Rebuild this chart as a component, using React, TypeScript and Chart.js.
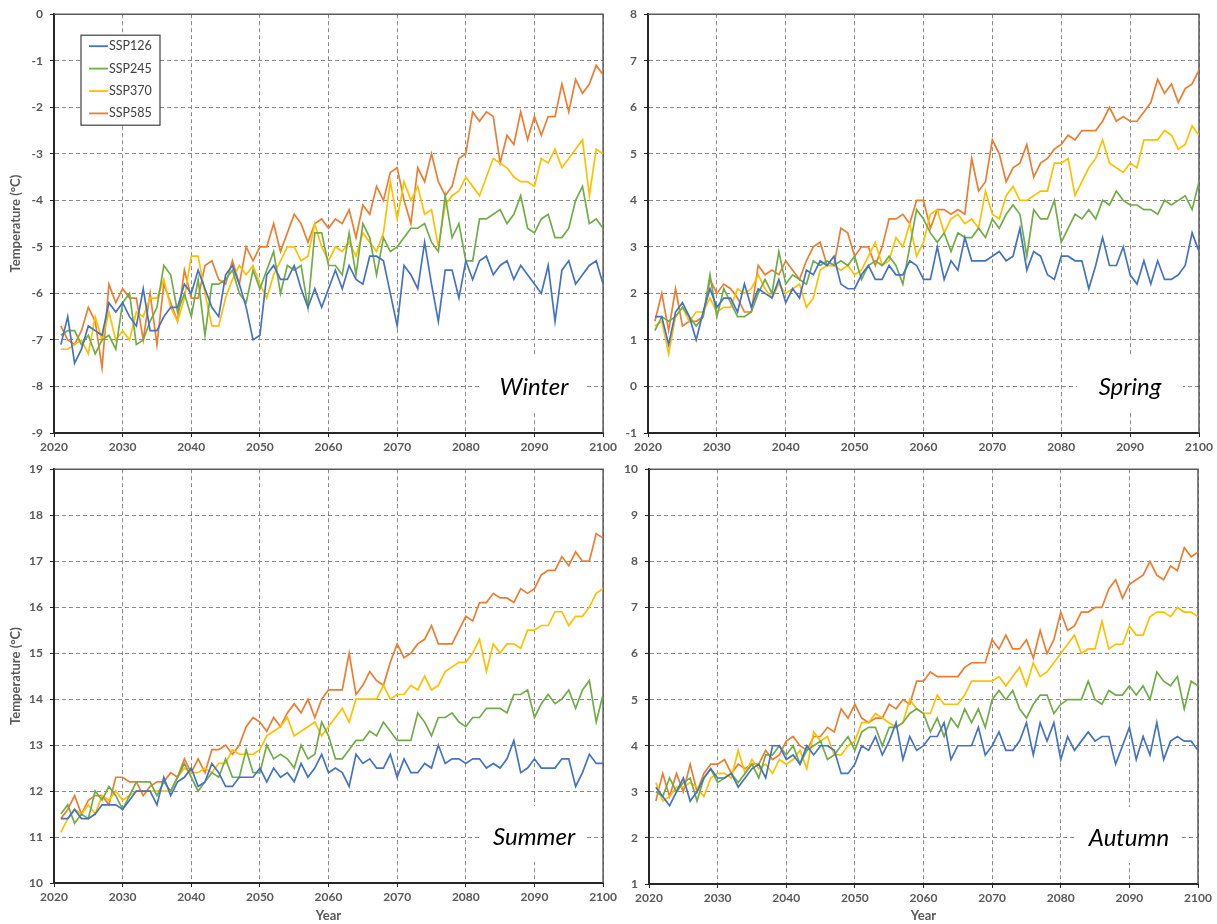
import React, { useEffect, useRef } from "react";
import { Chart, registerables } from "chart.js";

Chart.register(...registerables);

// ---------- categories ----------
const YEARS: number[] = Array.from({ length: 80 }, (_, i) => 2021 + i);
const SCENARIOS = ["SSP126", "SSP245", "SSP370", "SSP585"];
const COLORS = ["#4472C4", "#70AD47", "#FFC000", "#ED7D31"];
const X_TICK_STEP = 10;

// ---------- Winter ----------
const WINTER_SSP126 = [
  -7.1, -6.5, -7.5, -7.2, -6.7, -6.8, -6.9, -6.2, -6.4, -6.2,
  -6.5, -6.7, -5.9, -6.8, -6.8, -6.5, -6.3, -6.3, -5.8, -6.0,
  -5.5, -5.9, -6.3, -6.5, -5.6, -5.4, -5.8, -6.3, -7.0, -6.9,
  -5.6, -5.4, -5.7, -5.7, -5.4, -5.9, -6.3, -5.9, -6.3, -5.9,
  -5.5, -5.9, -5.4, -5.7, -5.8, -5.2, -5.2, -5.3, -6.0, -6.7,
  -5.4, -5.6, -5.9, -4.9, -5.8, -6.6, -5.5, -5.5, -6.1, -5.3,
  -5.7, -5.3, -5.2, -5.6, -5.4, -5.3, -5.7, -5.4, -5.6, -5.8,
  -6.0, -5.4, -6.6, -5.5, -5.3, -5.8, -5.6, -5.4, -5.3, -5.8,
];
const WINTER_SSP245 = [
  -6.9, -6.8, -6.8, -7.1, -6.9, -7.3, -7.0, -6.9, -7.2, -6.2,
  -6.0, -7.1, -7.0, -6.6, -6.3, -5.4, -5.6, -6.4, -6.0, -6.5,
  -5.7, -6.9, -5.8, -5.8, -5.7, -5.5, -6.0, -6.2, -5.5, -5.9,
  -5.5, -5.1, -6.0, -5.4, -5.5, -5.4, -6.3, -4.7, -4.7, -5.4,
  -5.4, -5.6, -4.7, -5.6, -4.5, -4.8, -5.6, -4.8, -5.1, -5.0,
  -4.8, -4.6, -4.6, -4.5, -4.9, -5.1, -3.9, -4.8, -4.5, -5.3,
  -5.3, -4.4, -4.4, -4.3, -4.2, -4.5, -4.3, -3.9, -4.6, -4.7,
  -4.4, -4.3, -4.8, -4.8, -4.6, -4.0, -3.7, -4.5, -4.4, -4.6,
];
const WINTER_SSP370 = [
  -7.2, -7.2, -7.1, -7.0, -7.3, -6.5, -7.0, -6.4, -7.0, -6.8,
  -7.0, -6.4, -6.5, -6.1, -6.1, -5.7, -6.3, -6.6, -6.1, -5.2,
  -5.2, -6.0, -6.7, -6.7, -6.1, -5.7, -5.4, -5.6, -5.4, -5.8,
  -6.1, -5.6, -5.3, -5.0, -5.0, -5.3, -5.2, -4.5, -5.0, -5.3,
  -5.0, -5.1, -4.9, -5.2, -4.7, -4.9, -5.1, -4.7, -3.6, -4.4,
  -3.6, -4.0, -3.7, -4.3, -4.2, -5.0, -4.1, -3.9, -3.8, -3.5,
  -3.7, -3.9, -3.5, -3.1, -3.2, -3.3, -3.5, -3.6, -3.6, -3.7,
  -3.1, -3.2, -2.9, -3.3, -3.1, -2.9, -2.7, -3.9, -2.9, -3.0,
];
const WINTER_SSP585 = [
  -6.7, -7.0, -7.1, -6.8, -6.3, -6.6, -7.6, -5.8, -6.2, -5.9,
  -6.1, -6.1, -7.0, -6.0, -7.1, -5.8, -6.2, -6.6, -5.5, -6.1,
  -6.1, -5.4, -5.3, -5.7, -5.8, -5.3, -5.8, -5.0, -5.3, -5.0,
  -5.0, -4.5, -5.1, -4.7, -4.3, -4.5, -4.9, -4.5, -4.4, -4.6,
  -4.4, -4.5, -4.2, -4.8, -4.1, -4.3, -3.7, -4.0, -3.4, -3.3,
  -4.0, -4.5, -3.3, -3.6, -3.0, -3.6, -3.9, -3.7, -3.1, -3.0,
  -2.1, -2.3, -2.1, -2.2, -3.2, -2.6, -2.8, -2.1, -2.7, -2.2,
  -2.6, -2.2, -2.2, -1.5, -2.1, -1.4, -1.7, -1.5, -1.1, -1.3,
];

// ---------- Spring ----------
const SPRING_SSP126 = [
  1.5, 1.5, 0.9, 1.6, 1.8, 1.5, 1.0, 1.6, 2.1, 1.7,
  1.9, 1.9, 1.6, 2.2, 1.7, 2.1, 2.0, 1.9, 2.3, 1.8,
  2.1, 1.9, 2.5, 2.4, 2.7, 2.6, 2.8, 2.2, 2.1, 2.1,
  2.4, 2.6, 2.3, 2.3, 2.6, 2.4, 2.4, 2.7, 2.6, 2.3,
  2.3, 3.0, 2.3, 2.7, 2.5, 3.2, 2.7, 2.7, 2.7, 2.8,
  2.9, 2.7, 2.8, 3.4, 2.5, 2.9, 2.8, 2.4, 2.3, 2.8,
  2.8, 2.7, 2.7, 2.1, 2.6, 3.2, 2.6, 2.6, 3.0, 2.4,
  2.2, 2.7, 2.2, 2.7, 2.3, 2.3, 2.4, 2.6, 3.3, 2.9,
];
const SPRING_SSP245 = [
  1.2, 1.5, 1.4, 1.5, 1.7, 1.5, 1.3, 1.5, 2.4, 1.5,
  2.1, 1.8, 1.5, 1.5, 1.6, 2.0, 2.3, 2.0, 2.9, 2.2,
  2.4, 2.3, 2.2, 2.7, 2.6, 2.7, 2.6, 2.7, 2.6, 2.8,
  2.3, 2.6, 2.7, 2.6, 2.8, 2.6, 2.2, 3.0, 3.8, 3.6,
  3.3, 3.1, 3.3, 2.9, 3.3, 3.2, 3.2, 3.4, 3.2, 3.6,
  3.4, 3.7, 3.9, 3.7, 2.8, 3.8, 3.6, 3.6, 4.0, 3.1,
  3.4, 3.7, 3.6, 3.8, 3.6, 4.0, 3.9, 4.2, 4.0, 3.9,
  3.9, 3.8, 3.8, 3.7, 4.0, 3.9, 4.0, 4.1, 3.8, 4.4,
];
const SPRING_SSP370 = [
  1.3, 1.4, 0.7, 1.5, 1.7, 1.4, 1.6, 1.6, 1.9, 1.6,
  1.7, 1.7, 2.1, 2.0, 2.1, 2.4, 2.1, 1.9, 2.2, 2.0,
  2.1, 2.2, 1.7, 1.9, 2.5, 2.6, 2.6, 2.5, 2.6, 2.4,
  2.5, 2.8, 3.1, 2.6, 2.7, 3.2, 3.0, 3.5, 2.8, 3.1,
  3.7, 3.8, 3.3, 3.6, 3.7, 3.5, 3.6, 3.4, 4.2, 3.7,
  3.6, 4.1, 4.3, 4.0, 4.0, 4.1, 4.2, 4.2, 4.8, 4.8,
  4.9, 4.1, 4.4, 4.7, 4.9, 5.3, 4.8, 4.7, 4.6, 4.8,
  4.7, 5.3, 5.3, 5.3, 5.5, 5.4, 5.1, 5.2, 5.6, 5.4,
];
const SPRING_SSP585 = [
  1.4, 2.0, 1.2, 2.1, 1.3, 1.4, 1.4, 1.5, 2.3, 2.0,
  2.2, 2.1, 1.9, 1.6, 1.6, 2.6, 2.4, 2.5, 2.4, 2.7,
  2.5, 2.3, 2.7, 3.0, 3.1, 2.6, 2.6, 3.4, 3.3, 2.8,
  3.0, 3.0, 2.6, 3.0, 3.6, 3.6, 3.7, 3.5, 4.0, 4.0,
  3.4, 3.8, 3.8, 3.7, 3.8, 3.7, 4.9, 4.2, 4.4, 5.3,
  5.0, 4.4, 4.7, 4.8, 5.2, 4.5, 4.8, 4.9, 5.1, 5.2,
  5.4, 5.3, 5.5, 5.5, 5.5, 5.7, 6.0, 5.7, 5.8, 5.7,
  5.7, 5.9, 6.1, 6.6, 6.3, 6.5, 6.1, 6.4, 6.5, 6.8,
];

// ---------- Summer ----------
const SUMMER_SSP126 = [
  11.4, 11.4, 11.6, 11.4, 11.4, 11.5, 11.7, 11.7, 11.7, 11.6,
  11.8, 12.0, 12.0, 12.0, 11.7, 12.3, 11.9, 12.2, 12.3, 12.5,
  12.1, 12.2, 12.6, 12.4, 12.1, 12.1, 12.3, 12.3, 12.3, 12.5,
  12.2, 12.5, 12.3, 12.4, 12.2, 12.6, 12.3, 12.5, 12.8, 12.4,
  12.5, 12.4, 12.1, 12.8, 12.6, 12.7, 12.5, 12.5, 12.8, 12.3,
  12.7, 12.4, 12.4, 12.6, 12.5, 13.0, 12.6, 12.7, 12.7, 12.6,
  12.7, 12.7, 12.5, 12.6, 12.5, 12.7, 13.1, 12.4, 12.5, 12.7,
  12.5, 12.5, 12.5, 12.7, 12.7, 12.1, 12.4, 12.8, 12.6, 12.6,
];
const SUMMER_SSP245 = [
  11.5, 11.7, 11.3, 11.5, 11.4, 12.0, 11.8, 12.1, 11.9, 11.6,
  11.9, 12.2, 12.2, 12.2, 11.9, 12.2, 12.0, 12.3, 12.6, 12.3,
  12.0, 12.2, 12.4, 12.3, 12.7, 12.3, 12.3, 12.9, 12.4, 12.4,
  13.0, 12.7, 12.8, 12.7, 12.5, 13.0, 12.7, 12.8, 13.5, 13.2,
  12.7, 12.7, 12.9, 13.1, 13.1, 13.3, 13.2, 13.5, 13.3, 13.1,
  13.1, 13.1, 13.7, 13.5, 13.2, 13.6, 13.6, 13.7, 13.5, 13.4,
  13.6, 13.6, 13.8, 13.8, 13.8, 13.7, 14.1, 14.1, 14.2, 13.6,
  13.9, 14.1, 13.9, 14.0, 14.2, 13.8, 14.2, 14.4, 13.5, 14.1,
];
const SUMMER_SSP370 = [
  11.1, 11.4, 11.6, 11.5, 11.7, 11.5, 11.9, 11.8, 12.0, 11.8,
  11.9, 12.0, 12.0, 12.0, 12.0, 12.0, 12.0, 12.3, 12.5, 12.4,
  12.4, 12.5, 12.4, 12.6, 12.6, 12.9, 12.8, 12.8, 12.8, 12.9,
  13.2, 13.3, 13.4, 13.6, 13.2, 13.3, 13.4, 13.5, 13.2, 13.4,
  13.6, 13.8, 13.5, 14.0, 14.0, 14.0, 14.0, 14.3, 14.0, 14.1,
  14.1, 14.3, 14.2, 14.5, 14.2, 14.3, 14.6, 14.7, 14.8, 14.8,
  15.0, 15.3, 14.6, 15.2, 15.0, 15.2, 15.2, 15.1, 15.5, 15.5,
  15.6, 15.6, 15.9, 15.9, 15.6, 15.8, 15.8, 16.0, 16.3, 16.4,
];
const SUMMER_SSP585 = [
  11.4, 11.6, 11.9, 11.5, 11.8, 11.9, 11.9, 11.7, 12.3, 12.3,
  12.2, 12.2, 11.9, 12.1, 12.2, 12.2, 12.4, 12.3, 12.7, 12.4,
  12.7, 12.4, 12.9, 12.9, 13.0, 12.8, 13.0, 13.4, 13.6, 13.5,
  13.3, 13.6, 13.4, 13.7, 13.9, 13.7, 14.0, 13.6, 14.0, 14.2,
  14.2, 14.2, 15.0, 14.1, 14.3, 14.6, 14.4, 14.3, 14.8, 15.2,
  14.9, 15.0, 15.2, 15.3, 15.6, 15.2, 15.2, 15.2, 15.5, 15.8,
  15.7, 16.1, 16.1, 16.3, 16.2, 16.2, 16.1, 16.4, 16.3, 16.4,
  16.7, 16.8, 16.8, 17.1, 16.9, 17.2, 17.0, 17.0, 17.6, 17.5,
];

// ---------- Autumn ----------
const AUTUMN_SSP126 = [
  3.1, 2.9, 2.7, 3.0, 3.3, 2.8, 3.0, 3.3, 3.5, 3.3,
  3.3, 3.4, 3.1, 3.3, 3.5, 3.6, 3.3, 4.0, 4.0, 3.7,
  3.8, 3.6, 4.0, 3.8, 4.0, 4.0, 3.9, 3.4, 3.4, 3.6,
  4.0, 3.9, 4.2, 3.8, 4.1, 4.5, 3.7, 4.2, 3.9, 4.0,
  4.2, 4.2, 4.5, 3.7, 4.0, 4.0, 4.0, 4.4, 3.8, 4.0,
  4.3, 3.9, 3.9, 4.1, 4.5, 3.8, 4.5, 4.1, 4.5, 3.7,
  4.2, 3.9, 4.1, 4.3, 4.1, 4.2, 4.2, 3.6, 4.0, 4.4,
  3.7, 4.2, 3.8, 4.5, 3.7, 4.1, 4.2, 4.1, 4.1, 3.9,
];
const AUTUMN_SSP245 = [
  3.0, 2.9, 3.3, 3.0, 3.2, 3.3, 2.8, 3.3, 3.5, 3.2,
  3.3, 3.4, 3.2, 3.4, 3.6, 3.3, 3.8, 3.8, 4.0, 3.8,
  4.0, 3.6, 3.9, 4.0, 4.1, 3.7, 3.8, 4.0, 4.2, 3.9,
  4.3, 4.4, 4.4, 4.0, 4.4, 4.4, 4.5, 4.7, 4.8, 4.7,
  4.3, 4.6, 4.2, 4.6, 4.4, 4.8, 4.5, 4.8, 4.4, 5.0,
  5.2, 5.0, 5.2, 4.8, 4.6, 4.9, 5.1, 5.1, 4.7, 4.9,
  5.0, 5.0, 5.0, 5.4, 5.0, 4.9, 5.2, 5.1, 5.1, 5.3,
  5.1, 5.3, 5.0, 5.6, 5.4, 5.3, 5.5, 4.8, 5.4, 5.3,
];
const AUTUMN_SSP370 = [
  3.2, 2.8, 2.9, 3.1, 3.1, 3.2, 3.1, 2.9, 3.3, 3.4,
  3.4, 3.3, 3.9, 3.4, 3.7, 3.5, 3.6, 3.4, 3.7, 3.6,
  3.7, 3.9, 3.5, 4.3, 4.1, 4.2, 3.8, 3.8, 4.0, 4.1,
  4.5, 4.5, 4.7, 4.6, 4.5, 4.4, 4.5, 5.0, 4.8, 4.7,
  4.7, 5.1, 4.9, 4.9, 4.9, 5.1, 5.4, 5.4, 5.4, 5.4,
  5.5, 5.3, 5.5, 5.7, 5.3, 5.8, 5.5, 5.6, 5.8, 6.0,
  6.2, 6.4, 6.0, 6.1, 6.1, 6.7, 6.1, 6.2, 6.2, 6.6,
  6.4, 6.4, 6.8, 6.9, 6.9, 6.8, 7.0, 6.9, 6.9, 6.8,
];
const AUTUMN_SSP585 = [
  2.8, 3.4, 2.9, 3.4, 3.0, 3.6, 3.0, 3.4, 3.6, 3.6,
  3.7, 3.4, 3.6, 3.5, 3.6, 3.6, 3.9, 3.7, 3.8, 4.1,
  4.2, 4.0, 3.9, 4.2, 4.2, 4.4, 4.3, 4.8, 4.6, 4.9,
  4.6, 4.5, 4.6, 4.6, 4.9, 4.8, 5.0, 4.9, 5.4, 5.4,
  5.6, 5.5, 5.5, 5.5, 5.5, 5.7, 5.8, 5.8, 5.8, 6.3,
  6.1, 6.4, 6.1, 6.1, 6.3, 5.9, 6.5, 6.0, 6.3, 6.9,
  6.5, 6.6, 6.9, 6.9, 7.0, 7.0, 7.4, 7.6, 7.2, 7.5,
  7.6, 7.7, 8.0, 7.7, 7.6, 7.9, 7.8, 8.3, 8.1, 8.2,
];

// ---------- panels ----------
type PanelDef = {
  name: string;
  series: number[][];
  yMin: number;
  yMax: number;
  left: number;
  top: number;
  width: number;
  height: number;
  yAxisWidth: number;
  xAxisHeight: number;
  padTop: number;
  padRight: number;
  yTitle: boolean;
  xTitle: boolean;
  legend: boolean;
};

const PANELS: PanelDef[] = [
  { name: "Winter", series: [WINTER_SSP126, WINTER_SSP245, WINTER_SSP370, WINTER_SSP585], yMin: -9, yMax: 0,
    left: 0, top: 0, width: 620, height: 455, yAxisWidth: 54, xAxisHeight: 22, padTop: 14, padRight: 14, yTitle: true, xTitle: false, legend: true },
  { name: "Spring", series: [SPRING_SSP126, SPRING_SSP245, SPRING_SSP370, SPRING_SSP585], yMin: -1, yMax: 8,
    left: 620, top: 0, width: 597, height: 455, yAxisWidth: 28, xAxisHeight: 22, padTop: 14, padRight: 18, yTitle: false, xTitle: false, legend: false },
  { name: "Summer", series: [SUMMER_SSP126, SUMMER_SSP245, SUMMER_SSP370, SUMMER_SSP585], yMin: 10, yMax: 19,
    left: 0, top: 455, width: 620, height: 469, yAxisWidth: 54, xAxisHeight: 41, padTop: 10, padRight: 14, yTitle: true, xTitle: true, legend: false },
  { name: "Autumn", series: [AUTUMN_SSP126, AUTUMN_SSP245, AUTUMN_SSP370, AUTUMN_SSP585], yMin: 1, yMax: 10,
    left: 620, top: 455, width: 597, height: 469, yAxisWidth: 29, xAxisHeight: 40, padTop: 11, padRight: 19, yTitle: false, xTitle: true, legend: false },
];

const TICK_COLOR = "#595959";
const GRID_COLOR = "#8a8a8a";
const AXIS_COLOR = "#262626";
const FONT_FAMILY = "Lato, 'Open Sans', sans-serif";

const decorPlugin = {
  id: "decor",
  beforeDatasetsDraw(chart: any, _args: any, opts: any) {
    const { ctx, chartArea: a } = chart;
    const cx = a.right - 69;
    const cy = a.bottom - 46;
    ctx.save();
    ctx.fillStyle = "#ffffff";
    ctx.fillRect(cx - 53, cy - 31, 106, 56);
    ctx.fillStyle = "#000000";
    ctx.font = `italic 24px ${FONT_FAMILY}`;
    ctx.textAlign = "center";
    ctx.textBaseline = "middle";
    ctx.fillText(opts.label, cx, cy);
    ctx.strokeStyle = "#595959";
    ctx.lineWidth = 1.5;
    ctx.beginPath();
    ctx.moveTo(a.left, a.top);
    ctx.lineTo(a.right, a.top);
    ctx.lineTo(a.right, a.bottom);
    ctx.stroke();
    ctx.restore();
  },
  afterDraw(chart: any, _args: any, opts: any) {
    if (!opts.legend) return;
    const { ctx, chartArea: a } = chart;
    const bx = a.left + 27;
    const by = a.top + 21;
    ctx.save();
    ctx.fillStyle = "#ffffff";
    ctx.fillRect(bx, by, 79, 90);
    ctx.strokeStyle = "#404040";
    ctx.lineWidth = 1.2;
    ctx.strokeRect(bx, by, 79, 90);
    ctx.font = `12.5px ${FONT_FAMILY}`;
    ctx.textBaseline = "middle";
    ctx.textAlign = "left";
    chart.data.datasets.forEach((ds: any, i: number) => {
      const y = by + 11 + i * 22.4;
      ctx.strokeStyle = ds.borderColor;
      ctx.lineWidth = 1.8;
      ctx.beginPath();
      ctx.moveTo(bx + 8, y);
      ctx.lineTo(bx + 27, y);
      ctx.stroke();
      ctx.fillStyle = "#404040";
      ctx.fillText(ds.label, bx + 28, y);
    });
    ctx.restore();
  },
};

function Panel({ def }: { def: PanelDef }) {
  const ref = useRef<HTMLCanvasElement | null>(null);
  useEffect(() => {
    if (!ref.current) return;
    const tickFont = { family: FONT_FAMILY, size: 12, weight: "bold" as const };
    const titleFont = { family: FONT_FAMILY, size: 13, weight: "bold" as const };
    const chart = new Chart(ref.current, {
      type: "line",
      data: {
        datasets: SCENARIOS.map((label, si) => ({
          label,
          data: YEARS.map((x, i) => ({ x, y: def.series[si][i] })),
          borderColor: COLORS[si],
          backgroundColor: COLORS[si],
          borderWidth: 1.7,
          pointRadius: 0,
          tension: 0,
          fill: false,
        })),
      },
      options: {
        animation: false,
        responsive: false,
        maintainAspectRatio: false,
        layout: { padding: { top: def.padTop, right: def.padRight, left: 0, bottom: 0 } },
        plugins: {
          legend: { display: false },
          tooltip: { enabled: false },
          decor: { label: def.name, legend: def.legend },
        } as any,
        scales: {
          x: {
            type: "linear",
            min: 2020,
            max: 2100,
            ticks: {
              stepSize: X_TICK_STEP,
              autoSkip: false,
              maxRotation: 0,
              color: TICK_COLOR,
              font: tickFont,
              padding: 3,
              callback: (v: any) => String(v),
            },
            grid: { color: GRID_COLOR, lineWidth: 1, tickLength: 4, tickColor: AXIS_COLOR, tickWidth: 1 },
            border: { display: true, color: AXIS_COLOR, width: 2, dash: [4, 3] },
            title: {
              display: def.xTitle,
              text: "Year",
              color: TICK_COLOR,
              font: titleFont,
              padding: { top: 0, bottom: 0 },
            },
            afterFit: (s: any) => { s.height = def.xAxisHeight; },
          },
          y: {
            type: "linear",
            min: def.yMin,
            max: def.yMax,
            ticks: { stepSize: 1, color: TICK_COLOR, font: tickFont, padding: 7 },
            grid: { color: GRID_COLOR, lineWidth: 1, tickLength: 4, tickColor: AXIS_COLOR, tickWidth: 1 },
            border: { display: true, color: AXIS_COLOR, width: 2, dash: [4, 3] },
            title: {
              display: def.yTitle,
              text: "Temperature (°C)",
              color: TICK_COLOR,
              font: titleFont,
              padding: { top: 8, bottom: 0 },
            },
            afterFit: (s: any) => { s.width = def.yAxisWidth; },
          },
        } as any,
      },
      plugins: [decorPlugin],
    });
    return () => chart.destroy();
  }, [def]);
  return (
    <canvas
      ref={ref}
      width={def.width}
      height={def.height}
      style={{ position: "absolute", left: def.left, top: def.top, width: def.width, height: def.height }}
    />
  );
}

export default function App() {
  return (
    <div style={{ position: "fixed", left: 0, top: 0, width: 1217, height: 924, background: "#ffffff" }}>
      {PANELS.map((p) => (
        <Panel key={p.name} def={p} />
      ))}
    </div>
  );
}
